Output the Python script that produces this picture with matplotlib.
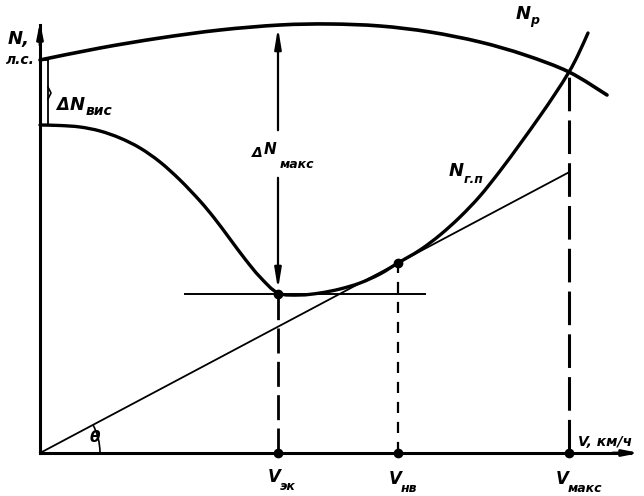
import numpy as np
from matplotlib import pyplot as plt
from matplotlib.path import Path
from matplotlib.patches import PathPatch, Arc

# chart values (V and N in drawing units, origin at axes crossing)
np_v = [0, 60, 120, 180, 240, 290, 340, 390, 440, 485, 529, 567]
np_n = [393, 405, 415, 423, 428, 429, 427, 421, 411, 398, 381, 358]

ngp_v = [0, 20, 40, 60, 80, 100, 120, 140, 160, 175, 190, 205, 220, 238, 260, 280, 300,
         320, 340, 358, 380, 400, 420, 440, 460, 480, 500, 515, 529, 538, 548]
ngp_n = [328, 327.5, 326, 322, 315, 305, 291, 273, 252, 234, 214, 194, 176, 160, 158, 160, 164,
         170, 179, 190, 203, 218, 236, 257, 282, 309, 337, 359, 381, 398, 420]

v_ek, n_ek = 238, 159      # economic speed (min power)
v_nv, n_nv = 358, 190      # tangent point
v_max, n_max = 529, 381    # max speed (crossing)
n_top = 428                # Np above V_ek
n_hover = (393, 328)       # Np and Ngp at V = 0

plt.rcParams['font.family'] = ['DejaVu Sans']


def smooth(ax, xs, ys, **kw):
    # Catmull-Rom through the read points, drawn as bezier path
    pts = np.column_stack([xs, ys]).astype(float)
    verts = [pts[0]]
    codes = [Path.MOVETO]
    for i in range(len(pts) - 1):
        p0 = pts[i - 1] if i > 0 else pts[i]
        p1, p2 = pts[i], pts[i + 1]
        p3 = pts[i + 2] if i + 2 < len(pts) else pts[i + 1]
        verts += [p1 + (p2 - p0) / 6, p2 - (p3 - p1) / 6, p2]
        codes += [Path.CURVE4] * 3
    ax.add_patch(PathPatch(Path(verts, codes), fill=False, capstyle='round', **kw))


def P(px, py):
    return px - 40, 453 - py


fig = plt.figure(figsize=(6.44, 4.96), dpi=100)
ax = fig.add_axes([0, 0, 1, 1])
ax.set_xlim(-40, 604)
ax.set_ylim(-43, 453)
ax.axis('off')

# axes with arrows
ax.plot([0, 0], [0, 428], color='black', lw=2.2)
ax.plot([0, 590], [0, 0], color='black', lw=2.2)
ax.annotate('', xy=(0, 434), xytext=(0, 405),
            arrowprops=dict(arrowstyle='-|>,head_length=0.9,head_width=0.18', color='black', lw=2))
ax.annotate('', xy=(602, 0), xytext=(570, 0),
            arrowprops=dict(arrowstyle='-|>,head_length=0.9,head_width=0.18', color='black', lw=2))

# curves
smooth(ax, np_v, np_n, color='black', lw=2.6)
smooth(ax, ngp_v, ngp_n, color='black', lw=2.4)

# tangent from origin through V_nv point
slope = n_nv / v_nv
ax.plot([0, v_max], [0, slope * v_max], color='black', lw=1.3)

# horizontal through minimum
ax.plot([145, 385], [n_ek, n_ek], color='black', lw=1.4)

# dashed verticals
ax.plot([v_ek, v_ek], [0, n_ek], color='black', lw=2, dashes=(9, 3))
ax.plot([v_nv, v_nv], [0, n_nv], color='black', lw=1.6, dashes=(5, 4))
ax.plot([v_max, v_max], [0, n_max], color='black', lw=2.2, dashes=(11, 3))

# delta N max double arrow
ax.annotate('', xy=(v_ek, n_top), xytext=(v_ek, 320),
            arrowprops=dict(arrowstyle='-|>,head_length=1.2,head_width=0.2', color='black', lw=1.6))
ax.annotate('', xy=(v_ek, n_ek + 2), xytext=(v_ek, 278),
            arrowprops=dict(arrowstyle='-|>,head_length=1.2,head_width=0.2', color='black', lw=1.6))

# hover bracket
ax.plot([8, 8], [n_hover[1], n_hover[0]], color='black', lw=1.3)
ax.plot([0, 8], [n_hover[0], n_hover[0]], color='black', lw=1.3)
ax.plot([0, 8], [n_hover[1], n_hover[1]], color='black', lw=1.3)
ax.plot([8, 11, 8], [366, 360, 354], color='black', lw=1.2)

# points
ax.plot([v_ek, v_nv, v_ek, v_nv, v_max], [n_ek, n_nv, 0, 0, 0], 'o', color='black', ms=6)

# theta arc
ax.add_patch(Arc((0, 0), 120, 120, theta1=0, theta2=np.degrees(np.arctan(slope)), color='black', lw=1.2))

txt = dict(color='black', style='italic', fontweight='bold')
ax.text(*P(8, 44), 'N,', fontsize=13, **txt)
ax.text(*P(6, 64), 'л.с.', fontsize=10, **txt)
ax.text(*P(516, 19), 'N', fontsize=13, **txt)
ax.text(*P(530, 24), 'р', fontsize=9, **txt)
ax.text(*P(56, 110), 'Δ', fontsize=12, **txt)
ax.text(*P(70, 110), 'N', fontsize=13, **txt)
ax.text(*P(86, 115), 'вис', fontsize=10, **txt)
ax.text(*P(252, 157), 'Δ', fontsize=10, **txt)
ax.text(*P(264, 154), 'N', fontsize=11, **txt)
ax.text(*P(280, 168), 'макс', fontsize=9, **txt)
ax.text(*P(449, 176), 'N', fontsize=13, **txt)
ax.text(*P(464, 183), 'г.п', fontsize=9, **txt)
ax.text(*P(90, 442), 'θ', fontsize=11, **txt)
ax.text(*P(578, 446), 'V, км/ч', fontsize=10, **txt)
ax.text(*P(268, 482), 'V', fontsize=12, **txt)
ax.text(*P(280, 490), 'эк', fontsize=9, **txt)
ax.text(*P(389, 484), 'V', fontsize=12, **txt)
ax.text(*P(401, 492), 'нв', fontsize=9, **txt)
ax.text(*P(556, 484), 'V', fontsize=12, **txt)
ax.text(*P(568, 492), 'макс', fontsize=9, **txt)

fig.savefig('out.png', dpi=100, facecolor='white')
